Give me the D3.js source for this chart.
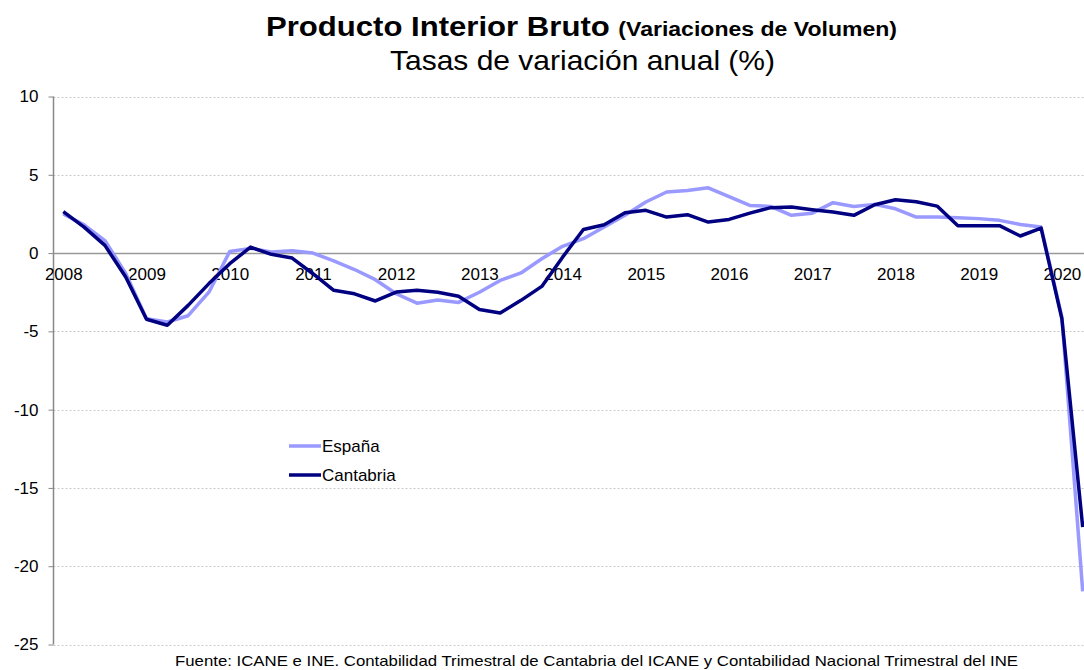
<!DOCTYPE html>
<html>
<head>
<meta charset="utf-8">
<script src="https://cdn.jsdelivr.net/npm/d3@7"></script>
<style>
  body { margin: 0; background: #fff; }
  svg { display: block; font-family: "Liberation Sans", Arial, sans-serif; }
</style>
</head>
<body>
<script>
// Quarterly data 2008Q1 - 2020Q2
const years = d3.range(2008, 2021);
const quarters = years.flatMap((y) => [1, 2, 3, 4].map((q) => `${y}T${q}`)).slice(0, 50);

const espana = [
  2.5, 1.8, 0.8, -1.3, -4.2, -4.4, -4.0, -2.5, 0.1, 0.3,
  0.07, 0.15, 0.0, -0.5, -1.05, -1.7, -2.6, -3.2, -3.0, -3.15,
  -2.5, -1.75, -1.27, -0.36, 0.43, 0.92, 1.66, 2.41, 3.26, 3.9,
  4.0, 4.17, 3.6, 3.04, 2.98, 2.41, 2.55, 3.22, 2.98, 3.11,
  2.83, 2.3, 2.3, 2.26, 2.2, 2.09, 1.83, 1.66, -4.1, -21.6
];
const cantabria = [
  2.65, 1.66, 0.49, -1.53, -4.23, -4.61, -3.34, -1.95, -0.68, 0.38,
  -0.08, -0.32, -1.32, -2.38, -2.6, -3.06, -2.49, -2.38, -2.5, -2.76,
  -3.61, -3.83, -3.02, -2.13, -0.26, 1.51, 1.81, 2.58, 2.73, 2.3,
  2.45, 1.98, 2.15, 2.55, 2.9, 2.94, 2.77, 2.62, 2.41, 3.09,
  3.41, 3.28, 3.0, 1.75, 1.75, 1.75, 1.09, 1.6, -4.2, -17.5
];
const yTicks = [10, 5, 0, -5, -10, -15, -20, -25];

const series = [
  { name: "España", values: espana, color: "#9999FF" },
  { name: "Cantabria", values: cantabria, color: "#000080" },
];

const width = 1084;
const height = 670;
const axisX = 53.5;

const svg = d3.select("body").append("svg")
  .attr("width", width)
  .attr("height", height);

const x = d3.scaleLinear().domain([0, 49]).range([63.3, 1082.7]);
const y = d3.scaleLinear().domain([-25, 10]).range([644.5, 96.5]);

// Gridlines
svg.append("g")
  .selectAll("line")
  .data(yTicks.filter((d) => d !== 0))
  .join("line")
  .attr("x1", axisX)
  .attr("x2", width)
  .attr("y1", (d) => Math.round(y(d)) + 0.5)
  .attr("y2", (d) => Math.round(y(d)) + 0.5)
  .attr("stroke", "#c8c8c8")
  .attr("stroke-dasharray", "2,2");

// Y axis
const yAxis = d3.axisLeft(y)
  .tickValues(yTicks)
  .tickFormat((d) => String(d))
  .tickSize(5)
  .tickPadding(10);
const gy = svg.append("g")
  .attr("transform", `translate(${axisX},0)`)
  .call(yAxis);
gy.select(".domain").attr("stroke", "#888").attr("stroke-width", 1.5).attr("d", `M0,${y(10)}V${y(-25)}`);
gy.selectAll(".tick line").attr("stroke", "#888");
gy.selectAll(".tick text")
  .attr("fill", "#000")
  .style("font-size", "17px")
  .style("font-family", "Liberation Sans, Arial, sans-serif");

// X axis at zero
const yearIdx = years.map((yr, i) => i * 4);
const xAxis = d3.axisBottom(x)
  .tickValues(yearIdx)
  .tickFormat((d) => years[d / 4])
  .tickSize(0)
  .tickPadding(14);
const gx = svg.append("g")
  .attr("transform", `translate(0,${Math.round(y(0)) + 0.5})`)
  .call(xAxis);
gx.select(".domain").attr("stroke", "#999").attr("stroke-width", 1.5).attr("d", `M${axisX},0H${width}`);
gx.selectAll(".tick text")
  .attr("fill", "#000")
  .style("font-size", "17px")
  .style("font-family", "Liberation Sans, Arial, sans-serif");

// Lines
const line = d3.line()
  .x((d, i) => x(i))
  .y((d) => y(d));

svg.append("g")
  .selectAll("path")
  .data(series)
  .join("path")
  .attr("fill", "none")
  .attr("stroke", (d) => d.color)
  .attr("stroke-width", 3.5)
  .attr("stroke-linejoin", "round")
  .attr("d", (d) => line(d.values));

// Legend
const legend = svg.append("g").attr("transform", "translate(289,446)");
const item = legend.selectAll("g")
  .data(series)
  .join("g")
  .attr("transform", (d, i) => `translate(0,${i * 29})`);
item.append("line")
  .attr("x1", 0)
  .attr("x2", 32)
  .attr("stroke", (d) => d.color)
  .attr("stroke-width", 3.5);
item.append("text")
  .attr("x", 33)
  .attr("y", 6)
  .style("font-size", "17px")
  .text((d) => d.name);

// Titles
const title = svg.append("text")
  .attr("x", 266)
  .attr("y", 36)
  .attr("textLength", 631)
  .attr("lengthAdjust", "spacingAndGlyphs")
  .style("font-weight", "bold");
title.append("tspan").style("font-size", "27px").text("Producto Interior Bruto ");
title.append("tspan").style("font-size", "20px").text("(Variaciones de Volumen)");

svg.append("text")
  .attr("x", 390)
  .attr("y", 70)
  .attr("textLength", 385)
  .attr("lengthAdjust", "spacingAndGlyphs")
  .style("font-size", "28px")
  .text("Tasas de variación anual (%)");

// Source
svg.append("text")
  .attr("x", 175)
  .attr("y", 666)
  .attr("textLength", 843)
  .attr("lengthAdjust", "spacingAndGlyphs")
  .style("font-size", "15px")
  .text("Fuente: ICANE e INE. Contabilidad Trimestral de Cantabria del ICANE y Contabilidad  Nacional Trimestral  del INE");
</script>
</body>
</html>
